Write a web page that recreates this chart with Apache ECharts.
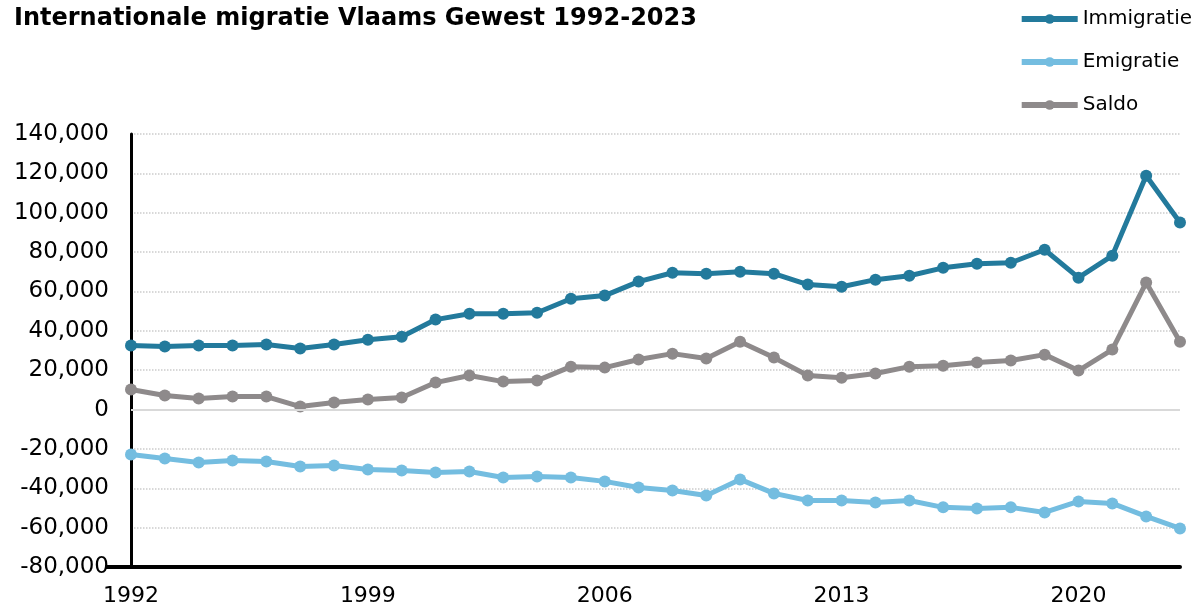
<!DOCTYPE html>
<html><head><meta charset="utf-8">
<script src="https://cdn.jsdelivr.net/npm/echarts@6/dist/echarts.min.js"></script>
<style>html,body{margin:0;padding:0;background:#fff}#c{width:1203px;height:613px}</style>
</head><body><div id="c"></div>
<script>
const years = [];
for (let y = 1992; y <= 2023; y++) years.push(String(y));
const immigratie = [32500,32000,32500,32500,33000,31000,33000,35500,37000,45700,48700,48700,49200,56300,57900,65000,69500,69000,70000,69000,63500,62400,66000,68000,72000,74100,74600,81200,67000,78200,118800,95000];
const emigratie = [-22800,-24900,-26900,-25900,-26400,-28900,-28400,-30500,-31000,-32000,-31500,-34500,-34000,-34500,-36500,-39600,-41100,-43700,-35500,-42600,-46200,-46200,-47200,-46200,-49700,-50300,-49700,-52300,-46700,-47700,-54300,-60400];
const saldo = [10200,7100,5600,6600,6600,1500,3600,5100,6100,13700,17300,14200,14700,21800,21300,25400,28400,25900,34500,26400,17300,16200,18300,21800,22300,23900,24900,27900,19800,30500,64500,34500];
const seriesNames = ['Immigratie','Emigratie','Saldo'];
const colors = ['#237a9c','#74bde0','#8e8a8b'];
const font = 'DejaVu Sans, Verdana, sans-serif';

const chart = echarts.init(document.getElementById('c'), null, {renderer:'canvas'});
function mk(name, data, color, extra) {
  return Object.assign({
    name, type:'line', data, color,
    symbol:'circle', symbolSize:12, showSymbol:true,
    lineStyle:{width:5, color},
    itemStyle:{color},
    animation:false, z: 3
  }, extra || {});
}
chart.setOption({
  animation:false,
  title:{text:'Internationale migratie Vlaams Gewest 1992-2023', left:9, top:2,
    textStyle:{fontFamily:font, fontWeight:'bold', fontSize:24, color:'#000'}},
  legend:{orient:'vertical', right:6, top:4, itemGap:23, itemWidth:56, itemHeight:12,
    data:seriesNames,
    lineStyle:{width:6},
    textStyle:{fontFamily:font, fontSize:20, color:'#000'}},
  grid:{left:131, right:23, top:134, bottom:46, containLabel:false},
  xAxis:{type:'category', data:years, boundaryGap:false,
    axisLine:{show:true, onZero:false, lineStyle:{color:'#000', width:4}},
    axisTick:{show:false},
    axisLabel:{interval:6, fontFamily:font, fontSize:22, color:'#000', margin:18},
    splitLine:{show:false}},
  yAxis:{type:'value', min:-80000, max:140000, interval:20000,
    axisLine:{show:true, lineStyle:{color:'#000', width:3}},
    axisTick:{show:false},
    axisLabel:{fontFamily:font, fontSize:23, color:'#000', margin:22,
      formatter:v => v.toLocaleString('en-US')},
    splitLine:{show:true, lineStyle:{color:'#cccccc', type:'dotted', width:1.5}}},
  series:[
    mk(seriesNames[0], immigratie, colors[0], {
      markLine:{silent:true, symbol:'none', label:{show:false},
        lineStyle:{color:'#d9d9d9', type:'solid', width:2},
        data:[{yAxis:0}], animation:false}
    }),
    mk(seriesNames[1], emigratie, colors[1]),
    mk(seriesNames[2], saldo, colors[2])
  ],
  graphic:[{type:'line', z:100, shape:{x1:106, y1:567, x2:131, y2:567}, style:{stroke:'#000', lineWidth:4}}]
});
</script></body></html>
